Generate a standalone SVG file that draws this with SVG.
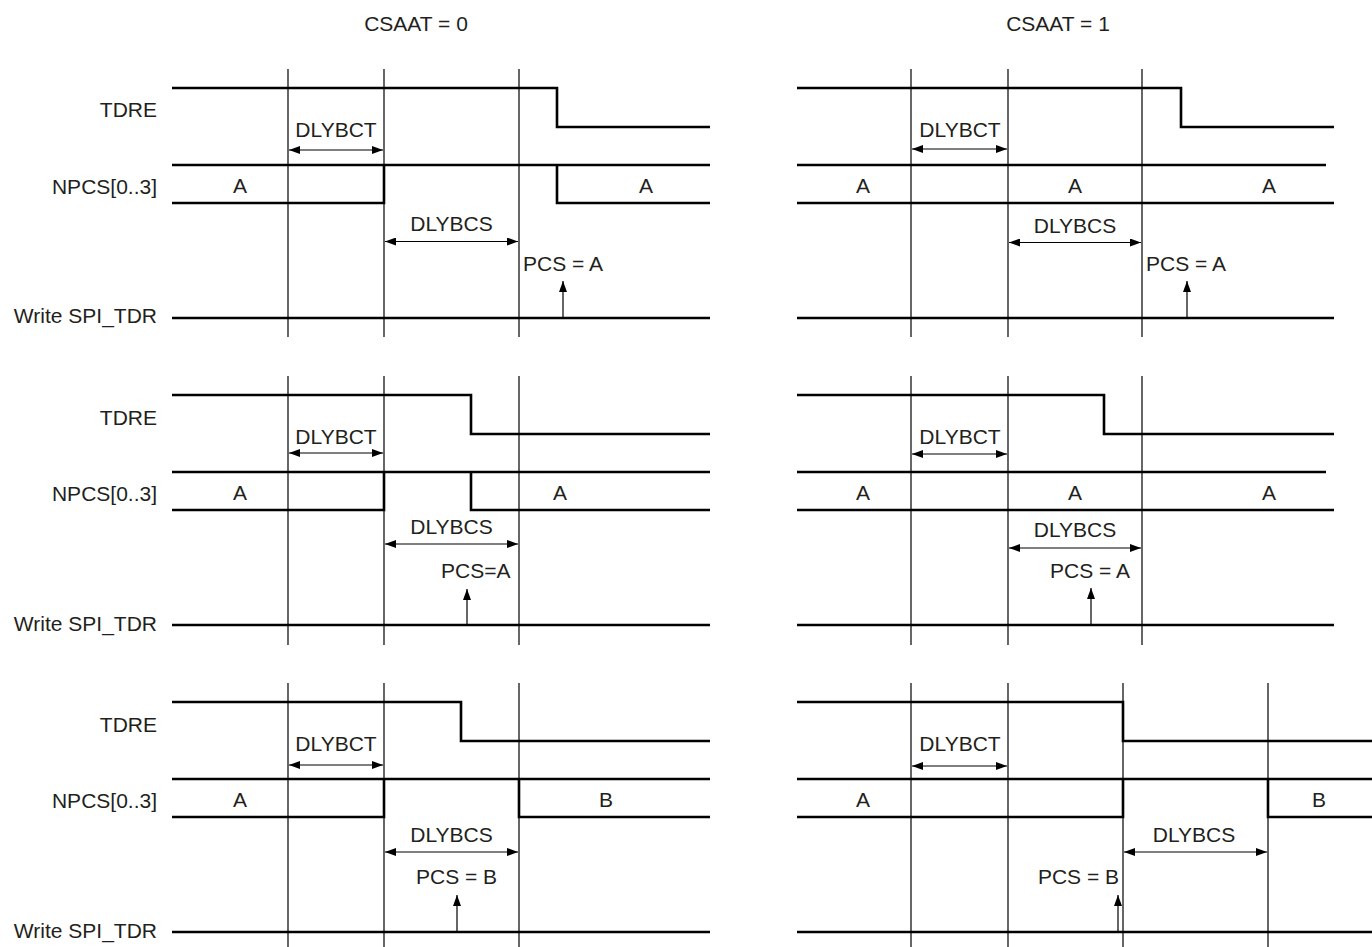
<svg xmlns="http://www.w3.org/2000/svg" width="1372" height="947" viewBox="0 0 1372 947">
<style>
.sig{fill:none;stroke:#000;stroke-width:2.6}
.grid{stroke:#000;stroke-width:1.2}
.dim{stroke:#000;stroke-width:1.2;marker-start:url(#ah);marker-end:url(#ah)}
.up{stroke:#000;stroke-width:1.2;marker-end:url(#ah)}
text{font-family:"Liberation Sans",Arial,sans-serif;font-size:21px;fill:#231f20}
.c{text-anchor:middle}
.r{text-anchor:end}
</style>
<defs>
<marker id="ah" markerUnits="userSpaceOnUse" markerWidth="12" markerHeight="8" refX="11" refY="4" orient="auto-start-reverse">
<path d="M0,0 L11,4 L0,8 z" fill="#000"/>
</marker>
</defs>
<rect width="1372" height="947" fill="#fff"/>

<g id="titles">
<text class="c" x="416" y="31">CSAAT = 0</text>
<text class="c" x="1058" y="31">CSAAT = 1</text>
</g>

<g id="row-labels">
<text class="r" x="157" y="117">TDRE</text>
<text class="r" x="157" y="194">NPCS[0..3]</text>
<text class="r" x="157" y="323">Write SPI_TDR</text>
<text class="r" x="157" y="425">TDRE</text>
<text class="r" x="157" y="501">NPCS[0..3]</text>
<text class="r" x="157" y="631">Write SPI_TDR</text>
<text class="r" x="157" y="732">TDRE</text>
<text class="r" x="157" y="808">NPCS[0..3]</text>
<text class="r" x="157" y="938">Write SPI_TDR</text>
</g>

<!-- Left row 1 -->
<g id="panel-L1">
<line class="grid" x1="288" y1="69" x2="288" y2="337"/>
<line class="grid" x1="384" y1="69" x2="384" y2="337"/>
<line class="grid" x1="519" y1="69" x2="519" y2="337"/>
<polyline class="sig" points="172,88 557,88 557,127 710,127"/>
<line class="sig" x1="172" y1="165" x2="710" y2="165"/>
<polyline class="sig" points="172,203 384,203 384,165"/>
<polyline class="sig" points="557,165 557,203 710,203"/>
<line class="sig" x1="172" y1="318" x2="710" y2="318"/>
<text class="c" x="240" y="193">A</text>
<text class="c" x="646" y="193">A</text>
<text class="c" x="336" y="137">DLYBCT</text>
<text class="c" x="451.5" y="231">DLYBCS</text>
<text x="523" y="271">PCS = A</text>
</g>

<!-- Left row 2 -->
<g id="panel-L2">
<line class="grid" x1="288" y1="376" x2="288" y2="645"/>
<line class="grid" x1="384" y1="376" x2="384" y2="645"/>
<line class="grid" x1="519" y1="376" x2="519" y2="645"/>
<polyline class="sig" points="172,395 471,395 471,434 710,434"/>
<line class="sig" x1="172" y1="472" x2="710" y2="472"/>
<polyline class="sig" points="172,510 384,510 384,472"/>
<polyline class="sig" points="471,472 471,510 710,510"/>
<line class="sig" x1="172" y1="625" x2="710" y2="625"/>
<text class="c" x="240" y="500">A</text>
<text class="c" x="560" y="500">A</text>
<text class="c" x="336" y="444">DLYBCT</text>
<text class="c" x="451.5" y="534">DLYBCS</text>
<text x="441" y="578">PCS=A</text>
</g>

<!-- Left row 3 -->
<g id="panel-L3">
<line class="grid" x1="288" y1="683" x2="288" y2="947"/>
<line class="grid" x1="384" y1="683" x2="384" y2="947"/>
<line class="grid" x1="519" y1="683" x2="519" y2="947"/>
<polyline class="sig" points="172,702 461,702 461,741 710,741"/>
<line class="sig" x1="172" y1="779" x2="710" y2="779"/>
<polyline class="sig" points="172,817 384,817 384,779"/>
<polyline class="sig" points="519,779 519,817 710,817"/>
<line class="sig" x1="172" y1="932" x2="710" y2="932"/>
<text class="c" x="240" y="807">A</text>
<text class="c" x="606" y="807">B</text>
<text class="c" x="336" y="751">DLYBCT</text>
<text class="c" x="451.5" y="842">DLYBCS</text>
<text x="416" y="884">PCS = B</text>
</g>

<!-- Right row 1 -->
<g id="panel-R1">
<line class="grid" x1="911" y1="69" x2="911" y2="337"/>
<line class="grid" x1="1008" y1="69" x2="1008" y2="337"/>
<line class="grid" x1="1142" y1="69" x2="1142" y2="337"/>
<polyline class="sig" points="797,88 1181,88 1181,127 1334,127"/>
<line class="sig" x1="797" y1="165" x2="1326" y2="165"/>
<line class="sig" x1="797" y1="203" x2="1334" y2="203"/>
<line class="sig" x1="797" y1="318" x2="1334" y2="318"/>
<text class="c" x="863" y="193">A</text>
<text class="c" x="1075" y="193">A</text>
<text class="c" x="1269" y="193">A</text>
<text class="c" x="960" y="137">DLYBCT</text>
<text class="c" x="1075" y="233">DLYBCS</text>
<text x="1146" y="271">PCS = A</text>
</g>

<!-- Right row 2 -->
<g id="panel-R2">
<line class="grid" x1="911" y1="376" x2="911" y2="645"/>
<line class="grid" x1="1008" y1="376" x2="1008" y2="645"/>
<line class="grid" x1="1142" y1="376" x2="1142" y2="645"/>
<polyline class="sig" points="797,395 1104,395 1104,434 1334,434"/>
<line class="sig" x1="797" y1="472" x2="1326" y2="472"/>
<line class="sig" x1="797" y1="510" x2="1334" y2="510"/>
<line class="sig" x1="797" y1="625" x2="1334" y2="625"/>
<text class="c" x="863" y="500">A</text>
<text class="c" x="1075" y="500">A</text>
<text class="c" x="1269" y="500">A</text>
<text class="c" x="960" y="444">DLYBCT</text>
<text class="c" x="1075" y="537">DLYBCS</text>
<text x="1050" y="578">PCS = A</text>
</g>

<!-- Right row 3 -->
<g id="panel-R3">
<line class="grid" x1="911" y1="683" x2="911" y2="947"/>
<line class="grid" x1="1008" y1="683" x2="1008" y2="947"/>
<line class="grid" x1="1123" y1="683" x2="1123" y2="947"/>
<line class="grid" x1="1268" y1="683" x2="1268" y2="947"/>
<polyline class="sig" points="797,702 1123,702 1123,741 1372,741"/>
<line class="sig" x1="797" y1="779" x2="1372" y2="779"/>
<polyline class="sig" points="797,817 1123,817 1123,779"/>
<polyline class="sig" points="1268,779 1268,817 1372,817"/>
<line class="sig" x1="797" y1="932" x2="1372" y2="932"/>
<text class="c" x="863" y="807">A</text>
<text class="c" x="1319" y="807">B</text>
<text class="c" x="960" y="751">DLYBCT</text>
<text class="c" x="1194" y="842">DLYBCS</text>
<text class="r" x="1119" y="884">PCS = B</text>
</g>

<g id="connectors">
<line class="dim" x1="289" y1="150" x2="383" y2="150"/>
<line class="dim" x1="385" y1="241.5" x2="518" y2="241.5"/>
<line class="up" x1="563" y1="318" x2="563" y2="281"/>
<line class="dim" x1="289" y1="453" x2="383" y2="453"/>
<line class="dim" x1="385" y1="544" x2="518" y2="544"/>
<line class="up" x1="467" y1="625" x2="467" y2="589"/>
<line class="dim" x1="289" y1="765" x2="383" y2="765"/>
<line class="dim" x1="385" y1="852" x2="518" y2="852"/>
<line class="up" x1="457" y1="932" x2="457" y2="895"/>
<line class="dim" x1="912" y1="149" x2="1007" y2="149"/>
<line class="dim" x1="1009" y1="242.5" x2="1141" y2="242.5"/>
<line class="up" x1="1187" y1="318" x2="1187" y2="281"/>
<line class="dim" x1="912" y1="454" x2="1007" y2="454"/>
<line class="dim" x1="1009" y1="548" x2="1141" y2="548"/>
<line class="up" x1="1091" y1="625" x2="1091" y2="588"/>
<line class="dim" x1="912" y1="766" x2="1007" y2="766"/>
<line class="dim" x1="1124" y1="852" x2="1267" y2="852"/>
<line class="up" x1="1118" y1="932" x2="1118" y2="895"/>
</g>
</svg>
